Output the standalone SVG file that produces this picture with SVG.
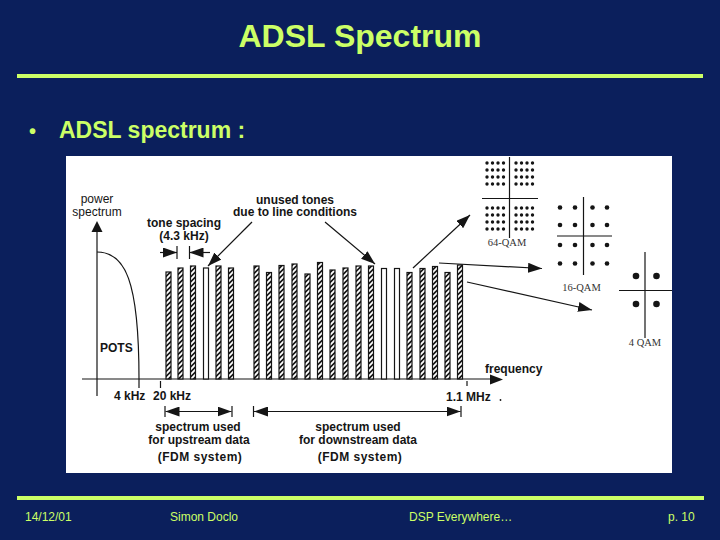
<svg xmlns="http://www.w3.org/2000/svg" width="720" height="540" viewBox="0 0 720 540">
<style>
.slide{font-family:"Liberation Sans",Arial,sans-serif;fill:#ccff66}
.lbl{font-family:"Liberation Sans",Arial,sans-serif;fill:#151515;font-weight:bold;font-size:12px}
.reg{font-family:"Liberation Sans",Arial,sans-serif;fill:#151515;font-size:12px}
.qam{font-family:"Liberation Serif","Times New Roman",serif;fill:#333;font-size:10.5px}
.ln{stroke:#151515;stroke-width:1.2;fill:none}
.bar{fill:url(#hatch);stroke:#151515;stroke-width:1.2}
.ubar{fill:#fff;stroke:#151515;stroke-width:1.2}
.dot{fill:#151515}
</style>
<defs>
<pattern id="hatch" width="5" height="5" patternUnits="userSpaceOnUse">
<rect width="5" height="5" fill="#151515"/>
<path d="M0,5 L5,0 M-1,1 L1,-1 M4,6 L6,4" stroke="#fff" stroke-width="1.9"/>
</pattern>
<marker id="ah" viewBox="0 0 14 10" refX="14" refY="5" markerWidth="14" markerHeight="10" markerUnits="userSpaceOnUse" orient="auto">
<path d="M0,0 L14,5 L0,10 Z" fill="#151515"/>
</marker>
</defs>
<rect width="720" height="540" fill="#0b1f5c"/>
<g id="header">
<text class="slide" x="360" y="47" text-anchor="middle" font-size="32" font-weight="bold">ADSL Spectrum</text>
<rect x="17" y="74" width="686" height="4" fill="#ccff66"/>
<text class="slide" x="29" y="138" font-size="20" font-weight="bold">•</text>
<text class="slide" x="59" y="138" font-size="23" font-weight="bold">ADSL spectrum :</text>
</g>
<g id="figure">
<rect x="66" y="156" width="606" height="317" fill="#fff"/>
<g id="axes">
<line class="ln" x1="97" y1="230" x2="97" y2="396"/>
<path d="M97,221 L102.5,232 L91.5,232 Z" fill="#151515"/>
<line class="ln" x1="82" y1="379" x2="492" y2="379"/>
<path d="M503,379.5 L490,374.5 L490,384.5 Z" fill="#151515"/>
<line class="ln" x1="139" y1="379" x2="139" y2="388"/>
<line class="ln" x1="160.5" y1="381" x2="160.5" y2="388"/>
<line class="ln" x1="467" y1="381" x2="467" y2="386"/>
<path class="ln" d="M97,252 C125,252 139,280 139,379"/>
<text class="reg" x="97" y="203" text-anchor="middle" font-size="11.5">power</text>
<text class="reg" x="97" y="216" text-anchor="middle">spectrum</text>
<text class="lbl" x="100" y="352" font-size="14">POTS</text>
<text class="lbl" x="114" y="400">4 kHz</text>
<text class="lbl" x="153" y="400">20 kHz</text>
<text class="lbl" x="446" y="401">1.1 MHz</text>
<circle cx="500.5" cy="400" r="0.9" fill="#151515"/>
<text class="lbl" x="485" y="373" font-size="11.7">frequency</text>
</g>
<g id="bars">
<rect class="bar" x="166" y="272" width="5" height="107"/>
<rect class="bar" x="178" y="268" width="5" height="111"/>
<rect class="bar" x="190.5" y="266" width="5" height="113"/>
<rect class="ubar" x="203.5" y="268" width="5" height="111"/>
<rect class="bar" x="216" y="266" width="5" height="113"/>
<rect class="bar" x="228.5" y="268" width="5" height="111"/>
<rect class="bar" x="254" y="266" width="5" height="113"/>
<rect class="bar" x="266.5" y="272.5" width="5" height="106.5"/>
<rect class="bar" x="279" y="265.5" width="5" height="113.5"/>
<rect class="bar" x="292" y="264" width="5" height="115"/>
<rect class="bar" x="305" y="274" width="5" height="105"/>
<rect class="bar" x="317.5" y="262.5" width="5" height="116.5"/>
<rect class="bar" x="330" y="270" width="5" height="109"/>
<rect class="bar" x="343" y="268" width="5" height="111"/>
<rect class="bar" x="356" y="266" width="5" height="113"/>
<rect class="bar" x="368.5" y="266" width="5" height="113"/>
<rect class="ubar" x="381.5" y="268.5" width="5" height="110.5"/>
<rect class="ubar" x="394.5" y="268.5" width="5" height="110.5"/>
<rect class="bar" x="407" y="272.5" width="5" height="106.5"/>
<rect class="bar" x="420" y="268.5" width="5" height="110.5"/>
<rect class="bar" x="432.5" y="266.5" width="5" height="112.5"/>
<rect class="bar" x="445" y="272.5" width="5" height="106.5"/>
<rect class="bar" x="457.5" y="265" width="5" height="114"/>
</g>
<g id="tone-spacing">
<text class="lbl" x="184" y="227" text-anchor="middle" font-size="11">tone spacing</text>
<text class="lbl" x="184" y="239.5" text-anchor="middle" font-size="11">(4.3 kHz)</text>
<line class="ln" x1="177" y1="246" x2="177" y2="259"/>
<line class="ln" x1="189.5" y1="246" x2="189.5" y2="259"/>
<line class="ln" x1="160" y1="252.5" x2="177" y2="252.5" marker-end="url(#ah)"/>
<line class="ln" x1="210" y1="252.5" x2="189.5" y2="252.5" marker-end="url(#ah)"/>
</g>
<g id="unused-tones">
<text class="lbl" x="295" y="203.5" text-anchor="middle" font-size="11.2">unused tones</text>
<text class="lbl" x="295" y="216" text-anchor="middle" font-size="11.2">due to line conditions</text>
</g>
<g id="connectors">
<line class="ln" x1="252" y1="222" x2="208" y2="266" marker-end="url(#ah)"/>
<line class="ln" x1="325" y1="222" x2="375" y2="264" marker-end="url(#ah)"/>
<line class="ln" x1="413" y1="268" x2="470" y2="215" marker-end="url(#ah)"/>
<line class="ln" x1="439" y1="263" x2="542" y2="268.5" marker-end="url(#ah)"/>
<line class="ln" x1="467" y1="282" x2="592" y2="310" marker-end="url(#ah)"/>
<line class="ln" x1="165" y1="406" x2="165" y2="417"/>
<line class="ln" x1="232" y1="406" x2="232" y2="417"/>
<line class="ln" x1="198" y1="411.5" x2="165.5" y2="411.5" marker-end="url(#ah)"/>
<line class="ln" x1="198" y1="411.5" x2="231.5" y2="411.5" marker-end="url(#ah)"/>
<line class="ln" x1="253.5" y1="406" x2="253.5" y2="417"/>
<line class="ln" x1="461" y1="406" x2="461" y2="417"/>
<line class="ln" x1="357" y1="411.5" x2="254" y2="411.5" marker-end="url(#ah)"/>
<line class="ln" x1="357" y1="411.5" x2="460.5" y2="411.5" marker-end="url(#ah)"/>
</g>
<g id="upstream-label">
<text class="lbl" x="198" y="431" text-anchor="middle" font-size="11.7">spectrum used</text>
<text class="lbl" x="199" y="444" text-anchor="middle" font-size="11.7">for upstream data</text>
<text class="lbl" x="200" y="461" text-anchor="middle" letter-spacing="0.5">(FDM system)</text>
</g>
<g id="downstream-label">
<text class="lbl" x="358" y="431" text-anchor="middle" font-size="11.7">spectrum used</text>
<text class="lbl" x="358" y="444" text-anchor="middle" font-size="11.7">for downstream data</text>
<text class="lbl" x="360" y="461" text-anchor="middle" letter-spacing="0.5">(FDM system)</text>
</g>
<g id="qam64">
<line class="ln" x1="509.5" y1="157" x2="509.5" y2="238" stroke-width="1"/>
<line class="ln" x1="482" y1="198.5" x2="538" y2="198.5" stroke-width="1"/>
<g class="dot">
<circle cx="487" cy="163" r="1.7"/><circle cx="492.5" cy="163" r="1.7"/><circle cx="498" cy="163" r="1.7"/><circle cx="503.5" cy="163" r="1.7"/>
<circle cx="516" cy="163" r="1.7"/><circle cx="521.5" cy="163" r="1.7"/><circle cx="527" cy="163" r="1.7"/><circle cx="532.5" cy="163" r="1.7"/>
<circle cx="487" cy="170" r="1.7"/><circle cx="492.5" cy="170" r="1.7"/><circle cx="498" cy="170" r="1.7"/><circle cx="503.5" cy="170" r="1.7"/>
<circle cx="516" cy="170" r="1.7"/><circle cx="521.5" cy="170" r="1.7"/><circle cx="527" cy="170" r="1.7"/><circle cx="532.5" cy="170" r="1.7"/>
<circle cx="487" cy="177" r="1.7"/><circle cx="492.5" cy="177" r="1.7"/><circle cx="498" cy="177" r="1.7"/><circle cx="503.5" cy="177" r="1.7"/>
<circle cx="516" cy="177" r="1.7"/><circle cx="521.5" cy="177" r="1.7"/><circle cx="527" cy="177" r="1.7"/><circle cx="532.5" cy="177" r="1.7"/>
<circle cx="487" cy="184" r="1.7"/><circle cx="492.5" cy="184" r="1.7"/><circle cx="498" cy="184" r="1.7"/><circle cx="503.5" cy="184" r="1.7"/>
<circle cx="516" cy="184" r="1.7"/><circle cx="521.5" cy="184" r="1.7"/><circle cx="527" cy="184" r="1.7"/><circle cx="532.5" cy="184" r="1.7"/>
<circle cx="487" cy="208" r="1.7"/><circle cx="492.5" cy="208" r="1.7"/><circle cx="498" cy="208" r="1.7"/><circle cx="503.5" cy="208" r="1.7"/>
<circle cx="516" cy="208" r="1.7"/><circle cx="521.5" cy="208" r="1.7"/><circle cx="527" cy="208" r="1.7"/><circle cx="532.5" cy="208" r="1.7"/>
<circle cx="487" cy="215" r="1.7"/><circle cx="492.5" cy="215" r="1.7"/><circle cx="498" cy="215" r="1.7"/><circle cx="503.5" cy="215" r="1.7"/>
<circle cx="516" cy="215" r="1.7"/><circle cx="521.5" cy="215" r="1.7"/><circle cx="527" cy="215" r="1.7"/><circle cx="532.5" cy="215" r="1.7"/>
<circle cx="487" cy="222" r="1.7"/><circle cx="492.5" cy="222" r="1.7"/><circle cx="498" cy="222" r="1.7"/><circle cx="503.5" cy="222" r="1.7"/>
<circle cx="516" cy="222" r="1.7"/><circle cx="521.5" cy="222" r="1.7"/><circle cx="527" cy="222" r="1.7"/><circle cx="532.5" cy="222" r="1.7"/>
<circle cx="487" cy="229" r="1.7"/><circle cx="492.5" cy="229" r="1.7"/><circle cx="498" cy="229" r="1.7"/><circle cx="503.5" cy="229" r="1.7"/>
<circle cx="516" cy="229" r="1.7"/><circle cx="521.5" cy="229" r="1.7"/><circle cx="527" cy="229" r="1.7"/><circle cx="532.5" cy="229" r="1.7"/>
</g>
<text class="qam" x="507" y="246" text-anchor="middle">64-QAM</text>
</g>
<g id="qam16">
<line class="ln" x1="583.5" y1="197" x2="583.5" y2="275" stroke-width="1"/>
<line class="ln" x1="557" y1="236" x2="612" y2="236" stroke-width="1"/>
<g class="dot">
<circle cx="560" cy="207.5" r="2.3"/><circle cx="575" cy="207.5" r="2.3"/><circle cx="592.5" cy="207.5" r="2.3"/><circle cx="607" cy="207.5" r="2.3"/>
<circle cx="560" cy="225" r="2.3"/><circle cx="575" cy="225" r="2.3"/><circle cx="592.5" cy="225" r="2.3"/><circle cx="607" cy="225" r="2.3"/>
<circle cx="560" cy="245" r="2.3"/><circle cx="575" cy="245" r="2.3"/><circle cx="592.5" cy="245" r="2.3"/><circle cx="607" cy="245" r="2.3"/>
<circle cx="560" cy="263.5" r="2.3"/><circle cx="575" cy="263.5" r="2.3"/><circle cx="592.5" cy="263.5" r="2.3"/><circle cx="607" cy="263.5" r="2.3"/>
</g>
<text class="qam" x="581.5" y="291" text-anchor="middle">16-QAM</text>
</g>
<g id="qam4">
<line class="ln" x1="645" y1="252" x2="645" y2="338" stroke-width="1"/>
<line class="ln" x1="619" y1="290.5" x2="672" y2="290.5" stroke-width="1"/>
<g class="dot">
<circle cx="636" cy="276" r="3.3"/><circle cx="656.5" cy="276" r="3.3"/>
<circle cx="636" cy="304" r="3.3"/><circle cx="656.5" cy="304" r="3.3"/>
</g>
<text class="qam" x="645" y="346" text-anchor="middle">4 QAM</text>
</g>
</g>
<g id="footer">
<rect x="17" y="496" width="687" height="4" fill="#ccff66"/>
<text class="slide" x="25" y="521" font-size="12">14/12/01</text>
<text class="slide" x="170" y="521" font-size="12">Simon Doclo</text>
<text class="slide" x="409" y="521" font-size="12">DSP Everywhere…</text>
<text class="slide" x="668" y="521" font-size="12">p. 10</text>
</g>
</svg>
